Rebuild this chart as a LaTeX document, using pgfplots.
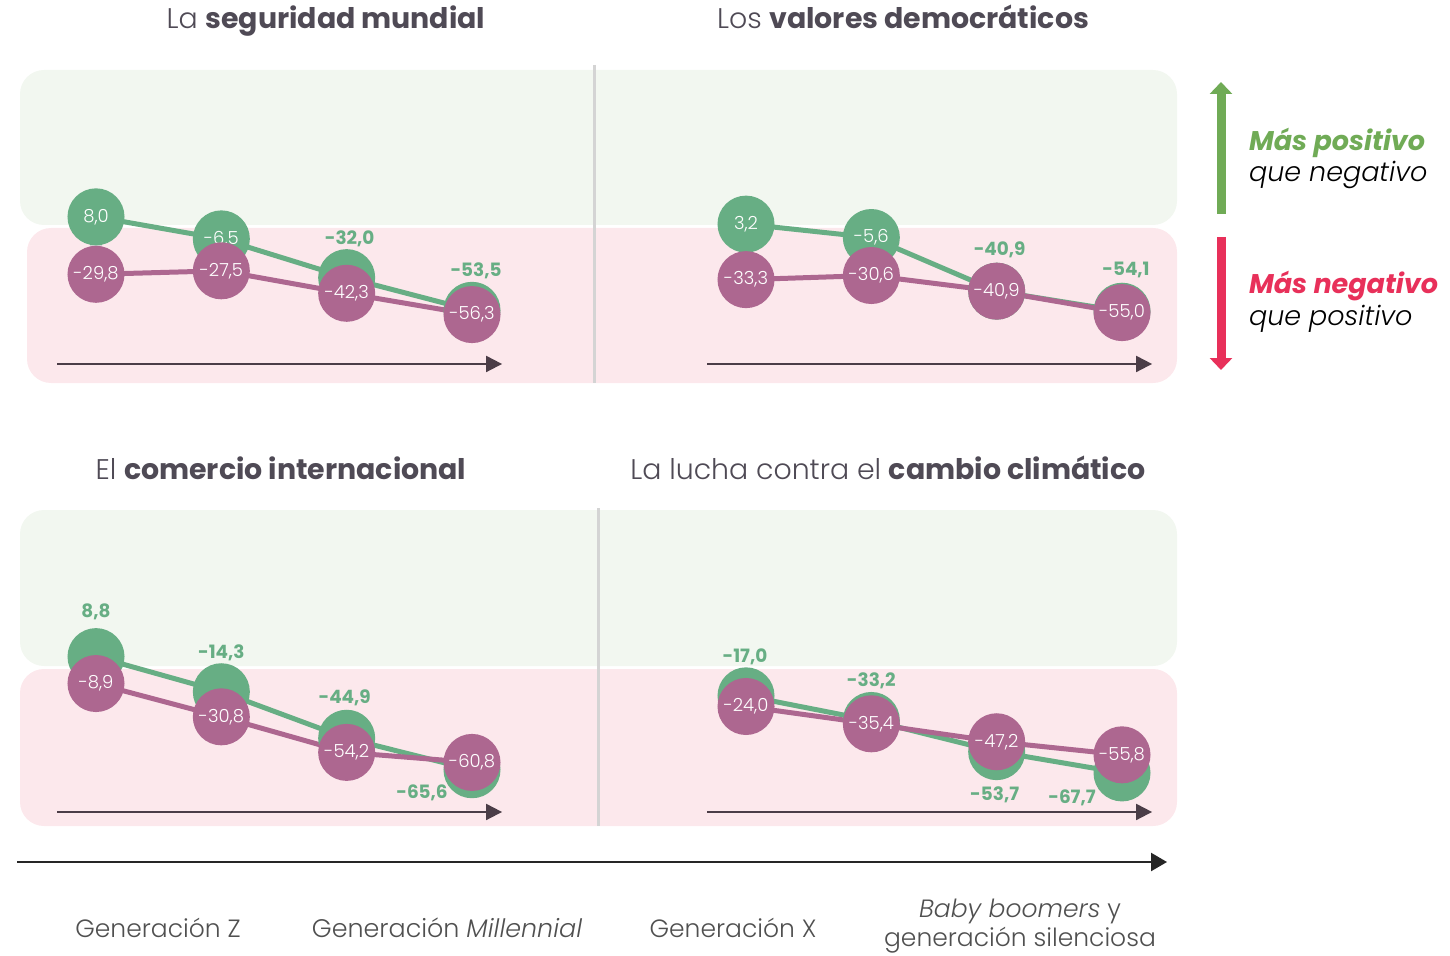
\documentclass[border=0pt]{standalone}
\usepackage{pgfplots}
\pgfplotsset{compat=1.18}
\usepackage{fontspec}
\setmainfont{Poppins}
\newfontfamily\lightfont{Poppins Light}
\usetikzlibrary{arrows.meta}
\definecolor{gcol}{HTML}{67AE84}
\definecolor{pcol}{HTML}{AD6790}
\definecolor{bandG}{HTML}{F2F7F0}
\definecolor{bandP}{HTML}{FCE8EC}
\definecolor{titlecol}{HTML}{4F4A55}
\definecolor{arrowcol}{HTML}{4B3D47}
\definecolor{legG}{HTML}{70AB56}
\definecolor{legR}{HTML}{E8305A}
\definecolor{sepcol}{HTML}{D4D4D4}
\definecolor{labcol}{HTML}{505050}
\definecolor{conncol}{HTML}{D3D3D3}

\pgfplotsset{
  panel/.style={scale only axis, hide axis, clip=false, anchor=south west,
    ymin=-102.63, ymax=103.29, height=156.5pt},
  gline/.style={gcol, line width=2.5pt, mark=*, mark size=13pt,
    mark options={fill=gcol, draw=none}},
  pline/.style={pcol, line width=2.5pt, mark=*, mark size=13pt,
    mark options={fill=pcol, draw=none},
    nodes near coords, point meta=explicit symbolic, nodes near coords align=center,
    every node near coord/.append style={anchor=center, text=white, font=\lightfont\fontsize{9}{10}\selectfont}},
  conn/.style={conncol, line width=6pt, mark=none},
  ginside/.style={only marks, mark=none, nodes near coords, point meta=explicit symbolic,
    nodes near coords align=center,
    every node near coord/.append style={anchor=center, text=white, font=\lightfont\fontsize{9}{10}\selectfont}},
  goutside/.style={only marks, mark=none, nodes near coords, point meta=explicit symbolic,
    nodes near coords align=center,
    visualization depends on={value \thisrow{dx}\as\dx},
    visualization depends on={value \thisrow{dy}\as\dy},
    every node near coord/.append style={anchor=center, xshift=\dx pt, yshift=\dy pt,
      text=gcol, font=\bfseries\fontsize{9.2}{11}\selectfont}},
}

\begin{document}
\begin{tikzpicture}
\useasboundingbox (0,0) rectangle (725pt,477.5pt);
\begin{scope}[shift={(0pt,477.5pt)}, x=0.5pt, y=-0.5pt]
  % background bands
  \fill[bandG, rounded corners=12pt] (20,70) rectangle (1177,225);
  \fill[bandP, rounded corners=12pt] (27,228) rectangle (1177,383);
  \fill[bandG, rounded corners=12pt] (20,510) rectangle (1177,666);
  \fill[bandP, rounded corners=12pt] (20,669) rectangle (1177,826);
  % separators
  \draw[sepcol, line width=1.5pt] (594,65) -- (594,383);
  \draw[sepcol, line width=1.5pt] (598,508) -- (598,826);
  % titles
  \node[anchor=base, titlecol, font=\fontsize{14.2}{16}\selectfont] at (326,29) {{\lightfont La} \textbf{seguridad mundial}};
  \node[anchor=base, titlecol, font=\fontsize{14.2}{16}\selectfont] at (903,29) {{\lightfont Los} \textbf{valores democráticos}};
  \node[anchor=base, titlecol, font=\fontsize{14.2}{16}\selectfont] at (281,479) {{\lightfont El} \textbf{comercio internacional}};
  \node[anchor=base, titlecol, font=\fontsize{14.2}{16}\selectfont] at (888,479) {{\lightfont La lucha contra el} \textbf{cambio climático}};
  % legend
  \draw[legG, line width=4.5pt, -{Triangle[length=6pt,width=11pt]}] (1221,214) -- (1221,82);
  \draw[legR, line width=4.5pt, -{Triangle[length=6pt,width=11pt]}] (1221,237) -- (1221,370);
  \node[anchor=west, legG, font=\bfseries\itshape\fontsize{13.5}{16}\selectfont] at (1242,142.5) {Más positivo};
  \node[anchor=west, black, font=\lightfont\itshape\fontsize{13.5}{16}\selectfont] at (1242,174.5) {que negativo};
  \node[anchor=west, legR, font=\bfseries\itshape\fontsize{13.5}{16}\selectfont] at (1242,286.5) {Más negativo};
  \node[anchor=west, black, font=\lightfont\itshape\fontsize{13.5}{16}\selectfont] at (1242,318.5) {que positivo};
  % bottom axis
  \draw[black!85, line width=1.2pt, -{Triangle[length=8pt,width=9pt]}] (17,862) -- (1167,862);
  \node[labcol, font=\lightfont\fontsize{12.5}{14.5}\selectfont] at (158,928) {Generación Z};
  \node[labcol, font=\lightfont\fontsize{12.7}{14.5}\selectfont] at (447,928) {Generación \textit{Millennial}};
  \node[labcol, font=\lightfont\fontsize{12.5}{14.5}\selectfont] at (733,928) {Generación X};
  \node[labcol, align=center, inner sep=0pt, font=\lightfont\fontsize{12.5}{14.2}\selectfont] at (1020,926) {\textit{Baby boomers} y\\generación silenciosa};
\end{scope}

% ---------- top-left: seguridad mundial
\begin{axis}[panel, at={(10pt,285pt)}, width=287.5pt, xmin=-0.6064, xmax=3.9814]
  \draw[arrowcol, line width=1pt, -{Triangle[length=8pt,width=8pt]}] (axis cs:-0.311,-88.8) -- (axis cs:3.24,-88.8);
  \addplot[conn] coordinates {(0,8.0) (0,-29.8)};
  \addplot[gline] coordinates {(0,8.0) (1,-6.5) (2,-32.0) (3,-53.5)};
  \addplot[ginside] table[meta=lab] {
x y lab
0 8.0 8,0
1 -6.5 -6,5
};
  \addplot[pline] table[meta=lab] {
x y lab
0 -29.8 -29,8
1 -27.5 -27,5
2 -42.3 -42,3
3 -56.3 -56,3
};
  \addplot[goutside] table[meta=lab] {
x y lab dx dy
2 -32.0 -32,0 1.5 19.5
3 -53.5 -53,5 2 20
};
\end{axis}

% ---------- top-right: valores democraticos
\begin{axis}[panel, at={(297.5pt,285pt)}, width=291pt, xmin=-1.2048, xmax=3.4389]
  \draw[arrowcol, line width=1pt, -{Triangle[length=8pt,width=8pt]}] (axis cs:-0.311,-88.8) -- (axis cs:3.24,-88.8);
  \addplot[conn] coordinates {(0,3.2) (0,-33.3)};
  \addplot[gline] coordinates {(0,3.2) (1,-5.6) (2,-40.9) (3,-54.1)};
  \addplot[ginside] table[meta=lab] {
x y lab
0 3.2 3,2
1 -5.6 -5,6
};
  \addplot[pline] table[meta=lab] {
x y lab
0 -33.3 -33,3
1 -30.6 -30,6
2 -40.9 -40,9
3 -55.0 -55,0
};
  \addplot[goutside] table[meta=lab] {
x y lab dx dy
2 -40.9 -40,9 1.5 20.5
3 -54.1 -54,1 2 20.5
};
\end{axis}

% ---------- bottom-left: comercio internacional
\begin{axis}[panel, at={(10pt,64.5pt)}, width=287.5pt, xmin=-0.6064, xmax=3.9814]
  \draw[arrowcol, line width=1pt, -{Triangle[length=8pt,width=8pt]}] (axis cs:-0.311,-93.4) -- (axis cs:3.24,-93.4);
  \addplot[gline] coordinates {(0,8.8) (1,-14.3) (2,-44.9) (3,-65.6)};
  \addplot[pline] table[meta=lab] {
x y lab
0 -8.9 -8,9
1 -30.8 -30,8
2 -54.2 -54,2
3 -60.8 -60,8
};
  \addplot[goutside] table[meta=lab] {
x y lab dx dy
0 8.8 8,8 0 22.3
1 -14.3 -14,3 0 19.5
2 -44.9 -44,9 -1 20
3 -65.6 -65,6 -25 -11.7
};
\end{axis}

% ---------- bottom-right: cambio climatico
\begin{axis}[panel, at={(297.5pt,64.5pt)}, width=291pt, xmin=-1.2048, xmax=3.4389]
  \draw[arrowcol, line width=1pt, -{Triangle[length=8pt,width=8pt]}] (axis cs:-0.311,-93.4) -- (axis cs:3.24,-93.4);
  \addplot[gline] coordinates {(0,-17.0) (1,-33.2) (2,-53.7) (3,-67.7)};
  \addplot[pline] table[meta=lab] {
x y lab
0 -24.0 -24,0
1 -35.4 -35,4
2 -47.2 -47,2
3 -55.8 -55,8
};
  \addplot[goutside] table[meta=lab] {
x y lab dx dy
0 -17.0 -17,0 -0.5 19.5
1 -33.2 -33,2 0 20
2 -53.7 -53,7 -1 -21.7
3 -67.7 -67,7 -25 -12.5
};
\end{axis}
\end{tikzpicture}
\end{document}
